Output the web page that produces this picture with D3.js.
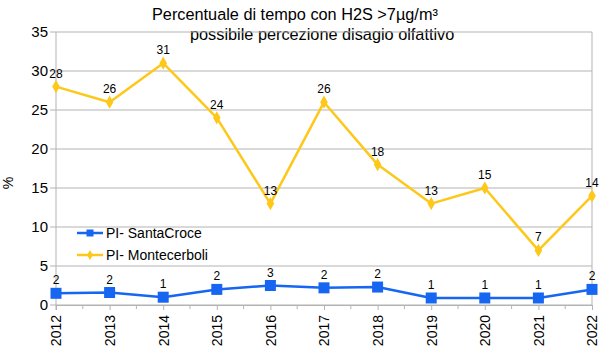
<!DOCTYPE html>
<html>
<head>
<meta charset="utf-8">
<script src="https://cdn.jsdelivr.net/npm/d3@7"></script>
<style>
  body { margin: 0; background: #fff; }
  text { font-family: "Liberation Sans", Arial, sans-serif; fill: #000; }
</style>
</head>
<body>
<svg id="chart" width="600" height="352"></svg>
<script>
// Data
var years = ["2012", "2013", "2014", "2015", "2016", "2017", "2018", "2019", "2020", "2021", "2022"];
var santaCroce = [1.5, 1.6, 1.0, 2.0, 2.5, 2.2, 2.3, 0.9, 0.9, 0.9, 2.0];
var montecerboli = [28, 26, 31, 24, 13, 26, 18, 13, 15, 7, 14];
var yTicks = [0, 5, 10, 15, 20, 25, 30, 35];
var titleLines = ["Percentuale di tempo con H2S >7µg/m³", "possibile percezione disagio olfattivo"];

var blue = "#1766f2", yellow = "#fdc81a", grid = "#b3b3b3";

var svg = d3.select("#chart");
// plot box (avoid "top" as a global name, it's window.top)
var plotL = 56, plotR = 592, plotT = 32, plotB = 305;

var x = d3.scalePoint().domain(years).range([plotL, plotR]);
var y = d3.scaleLinear().domain([0, 35]).range([plotB, plotT]);

// Title
svg.selectAll("text.title")
  .data(titleLines).enter()
  .append("text")
  .attr("class", "title")
  .attr("x", (d, i) => i === 0 ? 152 : 190)
  .attr("y", (d, i) => 20 + i * 20)
  .style("font-size", "16.3px")
  .text(d => d);

// Horizontal grid lines
svg.append("g")
  .selectAll("line")
  .data(yTicks).enter()
  .append("line")
  .attr("x1", plotL - 6).attr("x2", plotR)
  .attr("y1", d => y(d)).attr("y2", d => y(d))
  .attr("stroke", grid).attr("stroke-width", 1);

// Left axis and right border
svg.append("line").attr("x1", plotL).attr("x2", plotL).attr("y1", plotT).attr("y2", plotB + 5)
  .attr("stroke", grid);
svg.append("line").attr("x1", plotR).attr("x2", plotR).attr("y1", plotT).attr("y2", plotB)
  .attr("stroke", grid);

// Y axis labels
var yAxis = d3.axisLeft(y).tickValues(yTicks).tickSize(0).tickPadding(8);
var gy = svg.append("g").attr("transform", `translate(${plotL},0)`).call(yAxis);
gy.select(".domain").remove();
gy.selectAll("text").style("font-size", "15px").style("font-family", "Liberation Sans, Arial, sans-serif").attr("fill", "#000");

// Y axis title
svg.append("text")
  .attr("transform", "translate(13,183) rotate(-90)")
  .attr("text-anchor", "middle")
  .style("font-size", "14px")
  .text("%");

// X axis: major ticks at years, minor ticks between
var step = x.step();
var minor = years.slice(1).map(yr => x(yr) - step / 2);
svg.append("g").selectAll("line")
  .data(minor).enter().append("line")
  .attr("x1", d => d).attr("x2", d => d)
  .attr("y1", plotB).attr("y2", plotB + 4)
  .attr("stroke", grid);

var xAxis = d3.axisBottom(x).tickSize(5).tickPadding(4);
var gx = svg.append("g").attr("transform", `translate(0,${plotB})`).call(xAxis);
gx.select(".domain").attr("stroke", grid);
gx.selectAll(".tick line").attr("stroke", grid);
gx.selectAll("text")
  .style("font-size", "14px")
  .style("font-family", "Liberation Sans, Arial, sans-serif")
  .attr("fill", "#000")
  .attr("text-anchor", "end")
  .attr("transform", "rotate(-90)")
  .attr("x", -10)
  .attr("y", 0)
  .attr("dy", "0.35em");

var line = d3.line().x((d, i) => x(years[i])).y(d => y(d));

// Montecerboli series
svg.append("path").datum(montecerboli)
  .attr("d", line).attr("fill", "none")
  .attr("stroke", yellow).attr("stroke-width", 2.5).attr("stroke-linejoin", "round");
svg.append("g").selectAll("path")
  .data(montecerboli).enter().append("path")
  .attr("d", d3.symbol(d3.symbolDiamond, 50))
  .attr("transform", (d, i) => `translate(${x(years[i])},${y(d)})`)
  .attr("fill", yellow);

// SantaCroce series
svg.append("path").datum(santaCroce)
  .attr("d", line).attr("fill", "none")
  .attr("stroke", blue).attr("stroke-width", 2.5).attr("stroke-linejoin", "round");
svg.append("g").selectAll("rect")
  .data(santaCroce).enter().append("rect")
  .attr("x", (d, i) => x(years[i]) - 5.5)
  .attr("y", d => y(d) - 5.5)
  .attr("width", 11).attr("height", 11)
  .attr("fill", blue);

// Data labels
function labels(data) {
  svg.append("g").selectAll("text")
    .data(data).enter().append("text")
    .attr("x", (d, i) => x(years[i]))
    .attr("y", d => y(d) - 9)
    .attr("text-anchor", "middle")
    .style("font-size", "12px")
    .text(d => Math.round(d));
}
labels(montecerboli);
labels(santaCroce);

// Legend
var legend = [
  { name: "PI- SantaCroce", color: blue, sym: "square" },
  { name: "PI- Montecerboli", color: yellow, sym: "diamond" }
];
var lg = svg.append("g").selectAll("g")
  .data(legend).enter().append("g")
  .attr("transform", (d, i) => `translate(77,${233 + i * 22})`);
lg.append("line").attr("x1", 0).attr("x2", 26).attr("y1", 0).attr("y2", 0)
  .attr("stroke", d => d.color).attr("stroke-width", 2.5);
lg.append("path")
  .attr("d", d => d3.symbol(d.sym === "square" ? d3.symbolSquare : d3.symbolDiamond, d.sym === "square" ? 49 : 30)())
  .attr("transform", "translate(13,0)")
  .attr("fill", d => d.color);
lg.append("text").attr("x", 29).attr("y", 0).attr("dy", "0.35em")
  .style("font-size", "14px")
  .text(d => d.name);
</script>
</body>
</html>
